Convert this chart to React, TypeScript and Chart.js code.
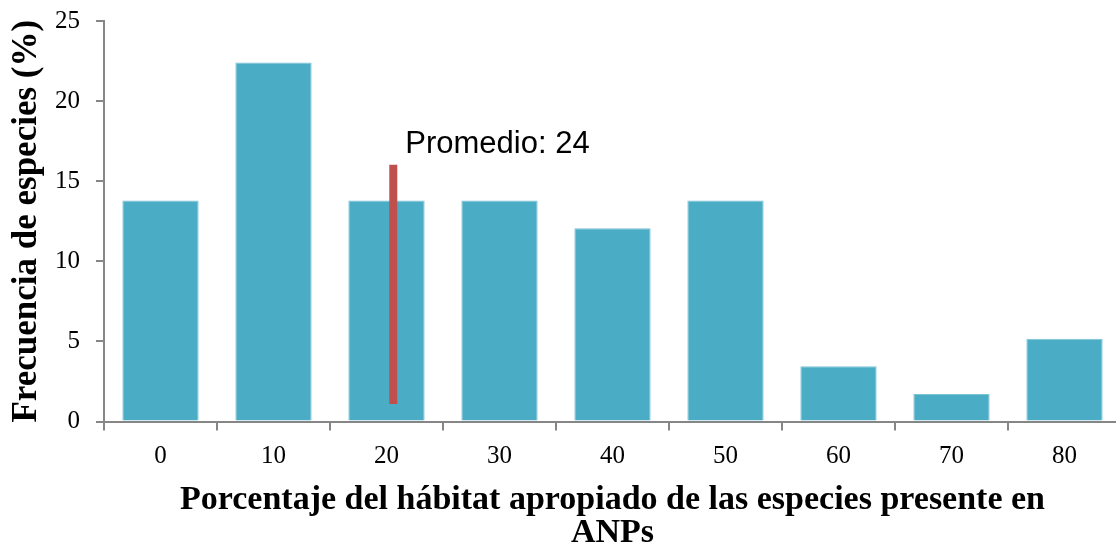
import React, { useEffect, useRef } from "react";
import { Chart, registerables } from "chart.js";

Chart.register(...registerables);

const categories = ["0", "10", "20", "30", "40", "50", "60", "70", "80"];
const frequencies = [13.79, 22.41, 13.79, 13.79, 12.07, 13.79, 3.45, 1.72, 5.17];
const yTicks = [0, 5, 10, 15, 20, 25];
const avgLabel = "Promedio: 24";
const avgPosition = [2.06]; // position in category units
const avgRange = [1.09, 16.03];
const xTitle = ["Porcentaje del hábitat apropiado de las especies presente en", "ANPs"];
const yTitle = "Frecuencia de especies (%)";

const BAR = "#4BACC6";
const RED = "#C0504D";
const AXIS = "#868686";
const SERIF = "'Liberation Serif', 'Times New Roman', serif";

export default function App() {
  const ref = useRef<HTMLCanvasElement | null>(null);
  useEffect(() => {
    document.body.style.margin = "0";
    document.body.style.overflow = "hidden";
    const labelPlugin = {
      id: "avgLabel",
      afterDatasetsDraw(chart: any) {
        const ctx = chart.ctx;
        const xs = chart.scales.xAvg;
        const ys = chart.scales.y;
        const px = xs.getPixelForValue(avgPosition[0]);
        const py = ys.getPixelForValue(avgRange[1]);
        ctx.save();
        ctx.fillStyle = "#000";
        ctx.font = "31px 'Liberation Sans', Arial, sans-serif";
        ctx.textAlign = "left";
        ctx.textBaseline = "alphabetic";
        ctx.fillText(avgLabel, px + 12, py - 12);
        ctx.restore();
      },
    };
    const chart = new Chart(ref.current as HTMLCanvasElement, {
      type: "bar",
      data: {
        labels: categories,
        datasets: [
          {
            type: "line",
            data: avgRange.map((v) => ({ x: avgPosition[0], y: v })),
            xAxisID: "xAvg",
            yAxisID: "y",
            borderColor: RED,
            borderWidth: 8,
            pointRadius: 0,
            borderCapStyle: "butt",
            order: 0,
          } as any,
          {
            type: "bar",
            data: frequencies,
            backgroundColor: BAR,
            borderColor: "#7CC3D6",
            borderWidth: 1,
            grouped: false,
            barPercentage: 0.675,
            categoryPercentage: 1,
            xAxisID: "x",
            yAxisID: "y",
            order: 1,
          } as any,
        ],
      },
      options: {
        animation: false,
        responsive: false,
        maintainAspectRatio: false,
        layout: { padding: { top: 10, right: 0, left: 0, bottom: 0 } },
        plugins: { legend: { display: false }, tooltip: { enabled: false } },
        scales: {
          x: {
            type: "category",
            offset: true,
            grid: {
              offset: true,
              drawOnChartArea: false,
              drawTicks: true,
              tickLength: 9,
              color: AXIS,
              lineWidth: 2,
            },
            border: { color: AXIS, width: 2 },
            ticks: {
              color: "#000",
              font: { family: SERIF, size: 25 },
              padding: 11,
            },
            title: {
              display: true,
              text: xTitle,
              color: "#000",
              font: { family: SERIF, size: 34, weight: "bold", lineHeight: 0.97 },
              padding: { top: 0, bottom: 0 },
            },
            afterFit(scale: any) {
              scale.height = 128.5;
            },
          },
          xAvg: {
            type: "linear",
            display: false,
            offset: false,
            grid: { offset: false },
            min: -0.5,
            max: 8.5,
          },
          y: {
            min: 0,
            max: 25,
            afterBuildTicks(scale: any) {
              scale.ticks = yTicks.map((v) => ({ value: v }));
            },
            grid: {
              drawOnChartArea: false,
              drawTicks: true,
              tickLength: 8,
              color: AXIS,
              lineWidth: 2,
            },
            border: { color: AXIS, width: 2 },
            ticks: {
              color: "#000",
              font: { family: SERIF, size: 25 },
              padding: 16,
            },
            title: {
              display: true,
              text: yTitle,
              color: "#000",
              font: { family: SERIF, size: 35, weight: "bold", lineHeight: 1 },
              padding: { top: 9, bottom: 0 },
            },
            afterFit(scale: any) {
              scale.width = 104;
            },
          },
        },
      },
      plugins: [labelPlugin],
    } as any);
    return () => chart.destroy();
  }, []);
  return (
    <div style={{ position: "absolute", left: 0, top: -10, width: 1121, height: 560 }}>
      <canvas ref={ref} width={1121} height={560} style={{ width: 1121, height: 560 }} />
    </div>
  );
}
